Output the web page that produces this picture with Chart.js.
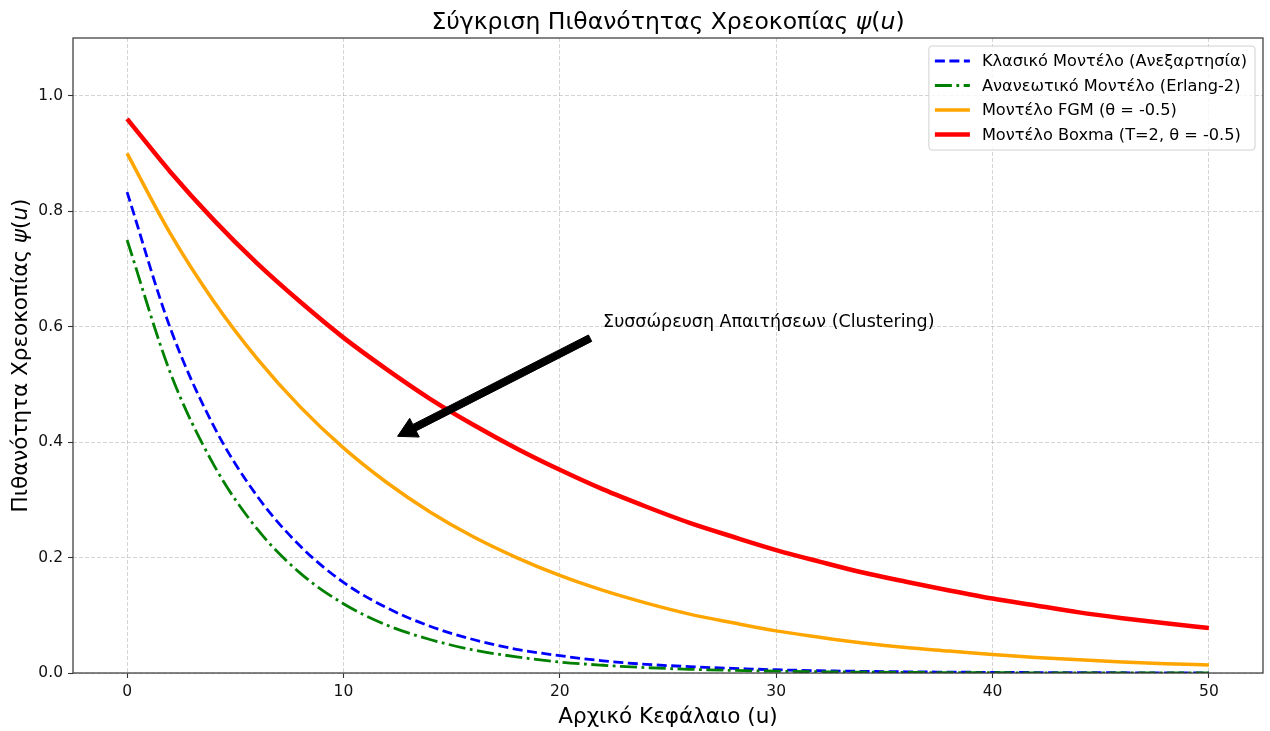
<!DOCTYPE html>
<html><head><meta charset="utf-8">
<script src="https://cdn.jsdelivr.net/npm/chart.js@4.4.1/dist/chart.umd.min.js"></script>
<style>html,body{margin:0;padding:0;background:#fff;}</style>
</head><body>
<canvas id="c" width="1270" height="731"></canvas>
<script>
// ---- data ----
const capital = [0,2,4,6,8,10,12,14,16,18,20,22,24,26,28,30,32,34,36,38,40,42,44,46,48,50];
const classicModel = [0.833,0.597,0.428,0.307,0.220,0.157,0.113,0.081,0.058,0.041,0.030,0.021,0.015,0.011,0.008,0.0056,0.0040,0.0029,0.0021,0.0015,0.0011,0.0008,0.0005,0.0004,0.0003,0.0002];
const renewalModel = [0.750,0.520,0.361,0.250,0.173,0.120,0.083,0.058,0.040,0.028,0.019,0.0134,0.0093,0.0064,0.0045,0.0031,0.0021,0.0015,0.0010,0.0007,0.0005,0.0003,0.0002,0.0002,0.0001,0.0001];
const fgmModel = [0.900,0.761,0.644,0.545,0.461,0.390,0.330,0.279,0.236,0.200,0.169,0.143,0.121,0.102,0.087,0.073,0.062,0.052,0.044,0.038,0.032,0.027,0.023,0.019,0.016,0.014];
const boxmaModel = [0.960,0.868,0.785,0.710,0.643,0.581,0.526,0.475,0.430,0.389,0.352,0.318,0.288,0.260,0.236,0.213,0.193,0.174,0.158,0.143,0.129,0.117,0.105,0.095,0.086,0.078];
const seriesLabels = ['Κλασικό Μοντέλο (Ανεξαρτησία)','Ανανεωτικό Μοντέλο (Erlang-2)','Μοντέλο FGM (θ = -0.5)','Μοντέλο Boxma (T=2, θ = -0.5)'];
const xTickValues = [0,10,20,30,40,50];
const yTickValues = [0,0.2,0.4,0.6,0.8,1.0];
const titleRuns = [['Σύγκριση Πιθανότητας Χρεοκοπίας ',0],['ψ',1],['(',0],['u',1],[')',0]];
const yTitleRuns = [['Πιθανότητα Χρεοκοπίας ',0],['ψ',1],['(',0],['u',1],[')',0]];
const xTitleText = 'Αρχικό Κεφάλαιο (u)';
const annotationText = 'Συσσώρευση Απαιτήσεων (Clustering)';
const annotationAt = [22, 0.6];
const arrowTail = [21.4, 0.58];
const arrowTip = [12.5, 0.41];

const FONT = "'DejaVu Sans', sans-serif";
const pts = arr => capital.map((u,i)=>({x:u, y:arr[i]}));

function drawRuns(ctx, runs, x, y, size, align){
  const fonts = runs.map(r => (r[1] ? 'oblique ' : '') + size + 'px ' + FONT);
  let total = 0; const widths = [];
  runs.forEach((r,i)=>{ ctx.font = fonts[i]; const w = ctx.measureText(r[0]).width; widths.push(w); total += w; });
  let cx = align === 'center' ? x - total/2 : x;
  ctx.textAlign = 'left';
  runs.forEach((r,i)=>{ ctx.font = fonts[i]; ctx.fillText(r[0], cx, y); cx += widths[i]; });
}

const decor = {
  id:'decor',
  afterDraw(chart){
    const ctx = chart.ctx, a = chart.chartArea, sx = chart.scales.x, sy = chart.scales.y;
    ctx.save();
    // frame
    ctx.strokeStyle = '#333'; ctx.lineWidth = 1.2; ctx.setLineDash([]);
    ctx.strokeRect(a.left, a.top, a.right - a.left, a.bottom - a.top);
    ctx.fillStyle = '#000';
    // title
    ctx.textBaseline = 'alphabetic';
    drawRuns(ctx, titleRuns, (a.left + a.right)/2, 29, 23.5, 'center');
    // x title
    drawRuns(ctx, [[xTitleText,0]], (a.left + a.right)/2, 723, 21.5, 'center');
    // y title
    ctx.save();
    ctx.translate(21, (a.top + a.bottom)/2);
    ctx.rotate(-Math.PI/2);
    ctx.textBaseline = 'middle';
    drawRuns(ctx, yTitleRuns, 0, 0, 21.5, 'center');
    ctx.restore();
    // annotation text
    ctx.textBaseline = 'alphabetic';
    ctx.font = '17.5px ' + FONT;
    ctx.textAlign = 'left';
    ctx.fillText(annotationText, sx.getPixelForValue(annotationAt[0]), sy.getPixelForValue(annotationAt[1]));
    // arrow
    const x0 = sx.getPixelForValue(arrowTail[0]), y0 = sy.getPixelForValue(arrowTail[1]);
    const x1 = sx.getPixelForValue(arrowTip[0]), y1 = sy.getPixelForValue(arrowTip[1]);
    const dx = x1-x0, dy = y1-y0, L = Math.hypot(dx,dy), ux = dx/L, uy = dy/L, nx = -uy, ny = ux;
    const sw = 3.6, hw = 10.5, hl = 19;
    const bx = x1 - ux*hl, by = y1 - uy*hl;
    ctx.beginPath();
    ctx.moveTo(x0 + nx*sw, y0 + ny*sw);
    ctx.lineTo(bx + nx*sw, by + ny*sw);
    ctx.lineTo(bx + nx*hw, by + ny*hw);
    ctx.lineTo(x1, y1);
    ctx.lineTo(bx - nx*hw, by - ny*hw);
    ctx.lineTo(bx - nx*sw, by - ny*sw);
    ctx.lineTo(x0 - nx*sw, y0 - ny*sw);
    ctx.closePath();
    ctx.fillStyle = '#000'; ctx.fill();
    ctx.lineWidth = 1; ctx.strokeStyle = '#000'; ctx.lineJoin = 'miter'; ctx.stroke();
    // legend
    const fs = 16.2;
    ctx.font = fs + 'px ' + FONT;
    let maxW = 0; seriesLabels.forEach(t => maxW = Math.max(maxW, ctx.measureText(t).width));
    const handleL = 35, pad = 6, gap = 12, rowH = 24.5;
    const boxW = pad + handleL + gap + maxW + 8;
    const boxH = 104;
    const bxR = a.right - 8, bxL = bxR - boxW, bxT = a.top + 8;
    ctx.beginPath();
    if (ctx.roundRect) ctx.roundRect(bxL, bxT, boxW, boxH, 3); else ctx.rect(bxL, bxT, boxW, boxH);
    ctx.fillStyle = 'rgba(255,255,255,0.8)'; ctx.fill();
    ctx.strokeStyle = '#d0d0d0'; ctx.lineWidth = 1; ctx.stroke();
    chart.data.datasets.forEach((ds, i) => {
      const ry = bxT + 15 + i*rowH;
      ctx.beginPath();
      ctx.setLineDash(ds.borderDash || []);
      ctx.lineCap = 'butt';
      ctx.strokeStyle = ds.borderColor; ctx.lineWidth = ds.borderWidth;
      ctx.moveTo(bxL + pad, ry); ctx.lineTo(bxL + pad + handleL, ry); ctx.stroke();
      ctx.setLineDash([]);
      ctx.fillStyle = '#000'; ctx.textBaseline = 'middle'; ctx.textAlign = 'left';
      ctx.font = fs + 'px ' + FONT;
      ctx.fillText(ds.label, bxL + pad + handleL + gap, ry + 1);
    });
    ctx.restore();
  }
};

const gridCommon = {color:'rgba(170,170,170,0.5)', lineWidth:1, tickLength:5, tickColor:'#333', tickWidth:1.1, tickBorderDash:[]};

new Chart(document.getElementById('c'), {
  type:'line',
  data:{ datasets:[
    {label:seriesLabels[0], data:pts(classicModel), borderColor:'#0000ff', borderWidth:2.8, borderDash:[10,4.5], order:4},
    {label:seriesLabels[1], data:pts(renewalModel), borderColor:'#008000', borderWidth:2.8, borderDash:[17,4.5,2.8,4.5], order:3},
    {label:seriesLabels[2], data:pts(fgmModel), borderColor:'#ffa500', borderWidth:3.5, order:2},
    {label:seriesLabels[3], data:pts(boxmaModel), borderColor:'#ff0000', borderWidth:4.5, order:1}
  ]},
  options:{
    responsive:false, animation:false, devicePixelRatio:1,
    layout:{padding:{top:38, right:7, left:0, bottom:0}},
    elements:{point:{radius:0}, line:{cubicInterpolationMode:'monotone', fill:false, borderCapStyle:'butt'}},
    plugins:{legend:{display:false}, title:{display:false}, tooltip:{enabled:false}},
    scales:{
      x:{type:'linear', min:-2.5, max:52.5,
        afterBuildTicks: s => { s.ticks = xTickValues.map(v => ({value:v})); },
        afterFit: s => { s.height = 58; },
        grid:gridCommon, border:{display:false, dash:[4,2]},
        ticks:{color:'#111', font:{family:FONT, size:15.5}, padding:5, maxRotation:0, autoSkip:false, callback: v => String(v)}},
      y:{type:'linear', min:0, max:1.1,
        afterBuildTicks: s => { s.ticks = yTickValues.map(v => ({value:v})); },
        afterFit: s => { s.width = 73; },
        grid:gridCommon, border:{display:false, dash:[4,2]},
        ticks:{color:'#111', font:{family:FONT, size:15.5}, padding:5, autoSkip:false, callback: v => Number(v).toFixed(1)}}
    }
  },
  plugins:[decor]
});
</script>
</body></html>
